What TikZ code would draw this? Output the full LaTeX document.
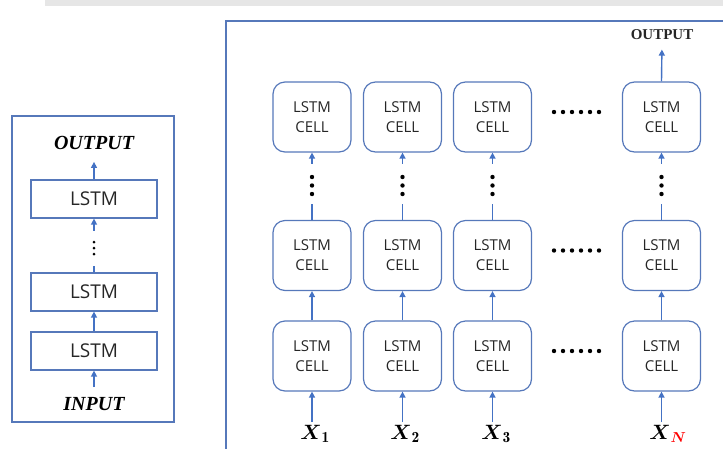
\documentclass[tikz,border=0pt]{standalone}
\usepackage{amsmath}
\usepackage{fontspec}
\usetikzlibrary{arrows.meta,calc}
\newfontfamily\cellfont{Open Sans}
\newfontfamily\labelserif{Liberation Serif}
\definecolor{linkblue}{RGB}{68,114,196}
\definecolor{edgeblue}{RGB}{86,120,186}
\definecolor{inktext}{RGB}{38,38,38}
\definecolor{bandgray}{RGB}{230,230,230}

\begin{document}
\begin{tikzpicture}[x=1pt,y=-1pt,
  cell/.style={draw=edgeblue,line width=1.2pt,rounded corners=12pt,
    minimum width=78pt,minimum height=70pt,inner sep=0pt,align=center,
    text=inktext,font=\cellfont\fontsize{15}{20}\selectfont},
  layerbox/.style={draw=edgeblue,line width=1.2pt,minimum width=126pt,
    minimum height=38pt,inner sep=0pt,text=inktext,
    font=\cellfont\fontsize{19}{22}\selectfont},
  link/.style={draw=linkblue,line width=1.4pt},
  arr/.style={link,-{Triangle[length=6pt,width=6pt]}},
  frame/.style={draw=edgeblue,line width=1.3pt},
  sidelabel/.style={inner sep=0pt,font=\labelserif\bfseries\itshape\fontsize{20}{22}\selectfont},
  xlab/.style={inner sep=1pt,font=\fontsize{22}{24}\selectfont},
  bigdot/.style={fill=black}]
\useasboundingbox (0,0) rectangle (723,448);

% faded strip along the top edge
\fill[bandgray] (45,0) rectangle (723,6);

% ---------- stacked LSTM (left) ----------
\draw[frame] (12,116) rectangle (174,422);
\node[layerbox] (lstmTop) at (94,199) {LSTM};
\node[layerbox] (lstmMid) at (94,292) {LSTM};
\node[layerbox] (lstmLow) at (94,351) {LSTM};
\node[sidelabel] (leftOut) at (94,143) {OUTPUT};
\node[sidelabel] (leftIn) at (94,404) {INPUT};

\draw[arr] ([yshift=10pt]leftIn.north) -- (lstmLow.south);
\draw[arr] (lstmLow.north) -- (lstmMid.south);
\draw[link] (lstmMid.north) -- ++(0,-6);
\foreach \yy in {242,248,254} \fill[bigdot] (94,\yy) circle (1.5pt);
\draw[arr] ($(lstmTop.south)+(0,12)$) -- (lstmTop.south);
\draw[arr] (lstmTop.north) -- ([yshift=-12pt]leftOut.south);

% ---------- unrolled grid of cells (right) ----------
\draw[frame] (226,460) |- (740,21);

\foreach \c/\x in {1/312,2/402.5,3/492.5,4/661.5}{
  \node[cell] (top\c) at (\x,117) {LSTM\\CELL};
  \node[cell] (mid\c) at (\x,255.5) {LSTM\\CELL};
  \node[cell] (low\c) at (\x,356) {LSTM\\CELL};
  \draw[arr] (low\c.north) -- (mid\c.south);
  \draw[link] (mid\c.north) -- ++(0,-16);
  \foreach \yy in {177,185.5,194} \fill[bigdot] (\x,\yy) circle (2.2pt);
  \draw[arr] ($(top\c.south)+(0,11)$) -- (top\c.south);
}

% horizontal ellipses between column 3 and column N
\foreach \yy in {112,250.5,351}
  \foreach \k in {0,...,5} \fill[bigdot] (554+9*\k,\yy) circle (2.2pt);

% inputs
\node[xlab] (x1) at (315,434) {$\boldsymbol{X}_{\mathbf{1}}$};
\node[xlab] (x2) at (405,434) {$\boldsymbol{X}_{\mathbf{2}}$};
\node[xlab] (x3) at (496,434) {$\boldsymbol{X}_{\mathbf{3}}$};
\node[xlab] (xN) at (668,434) {$\boldsymbol{X}_{\textcolor{red}{\boldsymbol{N}}}$};
\draw[arr] ([yshift=2pt]x1.north -| low1.south) -- (low1.south);
\draw[arr] ([yshift=2pt]x2.north -| low2.south) -- (low2.south);
\draw[arr] ([yshift=2pt]x3.north -| low3.south) -- (low3.south);
\draw[arr] ([yshift=2pt]xN.north -| low4.south) -- (low4.south);

% output of the last column
\node[font=\labelserif\bfseries\fontsize{15}{17}\selectfont,text=inktext] (rightOut) at (662,35) {OUTPUT};
\draw[arr,shorten >=6pt] (top4.north) -- (rightOut.south);
\end{tikzpicture}
\end{document}
